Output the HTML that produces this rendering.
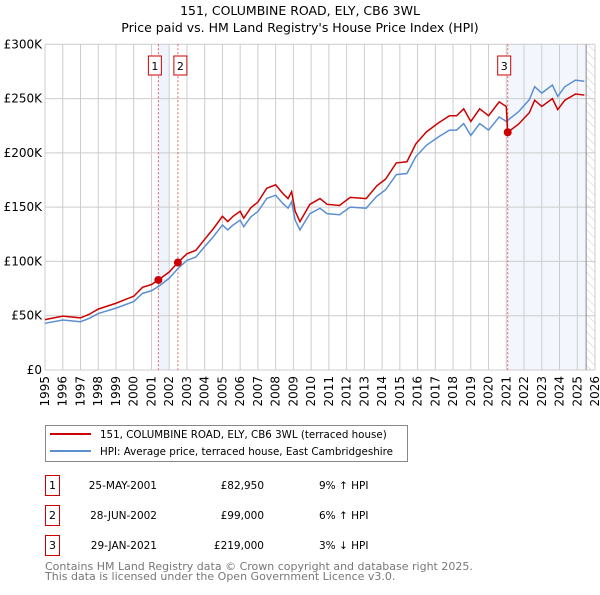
<!DOCTYPE html>
<html><head><meta charset="utf-8"><style>
body{margin:0;background:#fff;font-family:"Liberation Sans","DejaVu Sans",sans-serif}
svg text{font-family:"DejaVu Sans","Liberation Sans",sans-serif}
</style></head><body>
<svg id="c" width="600" height="590" xmlns="http://www.w3.org/2000/svg"></svg>
<script>
const hpiYears=[1995,1996,1997,1997.5,1998,1999,2000,2000.5,2001,2001.4,2002,2002.5,2003,2003.5,2004,2004.5,2005,2005.3,2005.6,2006,2006.2,2006.6,2007,2007.5,2008,2008.4,2008.7,2008.9,2009.1,2009.37,2009.93,2010.5,2010.9,2011.6,2012.2,2013.1,2013.7,2014.2,2014.8,2015.4,2015.9,2016.5,2017.2,2017.8,2018.2,2018.6,2019.0,2019.5,2020.0,2020.6,2021.0,2021.7,2022.3,2022.6,2023.0,2023.6,2023.9,2024.3,2024.9,2025.4];
const hpiValues=[43,46,44.5,47.6,52,57,63,70.6,73,77,84.5,93.6,101,104,113.6,123,133.6,129,133.6,138,132,141,146,158,161,153.5,149,155,138,129,144,149,144,143,150,149,160,166,180,181,196.5,207,215,221,221,227,216,227,221,233,229,238,249,261,255,262.5,252,261,267,266];
const saleYears=[2001.39,2002.49,2021.08];
const salePrices=[82.95,99,219];
const saleLabels=["1","2","3"];
const yTicks=[0,50,100,150,200,250,300];
const yTickLabels=["£0","£50K","£100K","£150K","£200K","£250K","£300K"];
const xTicks=[1995,1996,1997,1998,1999,2000,2001,2002,2003,2004,2005,2006,2007,2008,2009,2010,2011,2012,2013,2014,2015,2016,2017,2018,2019,2020,2021,2022,2023,2024,2025,2026];

const X0=45,X1=595,Y0=370,Y1=44.3;
const xs=y=>X0+(y-1995)/(2026-1995)*(X1-X0);
const ys=v=>Y0-v/300*(Y0-Y1);
const svg=document.getElementById('c');
const NS='http://www.w3.org/2000/svg';
function mk(t,a,p){const e=document.createElementNS(NS,t);for(const k in a)e.setAttribute(k,a[k]);(p||svg).appendChild(e);return e;}
function interp(y){for(let i=0;i<hpiYears.length-1;i++){if(y>=hpiYears[i]&&y<=hpiYears[i+1]){const t=(y-hpiYears[i])/(hpiYears[i+1]-hpiYears[i]);return hpiValues[i]+t*(hpiValues[i+1]-hpiValues[i]);}}return hpiValues[hpiValues.length-1];}

let t=mk('text',{x:300,y:15,'text-anchor':'middle','font-size':12.5});t.textContent='151, COLUMBINE ROAD, ELY, CB6 3WL';

t=mk('text',{x:300,y:32,'text-anchor':'middle','font-size':12.5});t.textContent="Price paid vs. HM Land Registry's House Price Index (HPI)";


let r=mk('rect',{x:xs(saleYears[0]),y:Y1,width:xs(2002.0)-xs(saleYears[0]),height:Y0-Y1,fill:'#eef3fc'});

r=mk('rect',{x:xs(saleYears[2]),y:Y1,width:xs(2025.5)-xs(saleYears[2]),height:Y0-Y1,fill:'#f3f7fd'});

const defs=mk('defs',{});
const pat=mk('pattern',{id:'h',width:6,height:6,patternUnits:'userSpaceOnUse',patternTransform:'rotate(-45)'},defs);
mk('line',{x1:0,y1:0,x2:0,y2:6,stroke:'#ccc','stroke-width':1},pat);
r=mk('rect',{x:xs(2025.5),y:Y1,width:X1-xs(2025.5),height:Y0-Y1,fill:'url(#h)'});


xTicks.forEach(y=>{const l=mk('line',{x1:xs(y),x2:xs(y),y1:Y1,y2:Y0,stroke:'#ccc'});

const tx=mk('text',{transform:`translate(${xs(y)+4},${Y0+6}) rotate(-90)`,'text-anchor':'end','font-size':12});tx.textContent=y;
});
yTicks.forEach((v,i)=>{const l=mk('line',{x1:X0,x2:X1,y1:ys(v),y2:ys(v),stroke:'#ccc'});

const tx=mk('text',{x:X0-3,y:ys(v)+4,'text-anchor':'end','font-size':12});tx.textContent=yTickLabels[i];
});
let l=mk('line',{x1:xs(2025.5),x2:xs(2025.5),y1:Y1,y2:Y0,stroke:'#888'});


saleYears.forEach((y,i)=>{const ln=mk('line',{x1:xs(y),x2:xs(y),y1:Y1,y2:Y0,stroke:'#e06060','stroke-dasharray':'2,2'});
});

const hp=mk('polyline',{points:hpiYears.map((y,i)=>xs(y)+','+ys(hpiValues[i])).join(' '),fill:'none',stroke:'#5b8fd0','stroke-width':1.5});


const f=saleYears.map((y,i)=>salePrices[i]/interp(y));
function fac(y){if(y<saleYears[1])return y<saleYears[0]?f[0]:f[0]+(f[1]-f[0])*(y-saleYears[0])/(saleYears[1]-saleYears[0]);if(y<saleYears[2])return f[1];return f[2];}
const ry=[...hpiYears,...saleYears].sort((a,b)=>a-b);
const rp=mk('polyline',{points:ry.map(y=>xs(y)+','+ys(interp(y)*fac(y))).join(' '),fill:'none',stroke:'#cc0000','stroke-width':1.5});


saleYears.forEach((y,i)=>{
 const c=mk('circle',{cx:xs(y),cy:ys(salePrices[i]),r:4,fill:'#cc0000'});
 
 const b=mk('rect',{x:(i==0?xs(y)-10:i==1?xs(y)-4:xs(y)-10),y:56,width:13,height:19,fill:'#fff',stroke:'#cc0000'});
 
 const tt=mk('text',{x:(i==0?xs(y)-3.5:i==1?xs(y)+2.5:xs(y)-3.5),y:70,'text-anchor':'middle','font-size':11});tt.textContent=saleLabels[i];
 
});

const lg=mk('g',{});
mk('rect',{x:45.5,y:425.5,width:362,height:36,fill:'#fff',stroke:'#888'},lg);
mk('line',{x1:50,x2:91,y1:434,y2:434,stroke:'#cc0000','stroke-width':2},lg);
mk('line',{x1:50,x2:91,y1:451,y2:451,stroke:'#5b8fd0','stroke-width':2},lg);
t=mk('text',{x:100,y:438,'font-size':10.3},lg);t.textContent='151, COLUMBINE ROAD, ELY, CB6 3WL (terraced house)';

t=mk('text',{x:100,y:455,'font-size':10.3},lg);t.textContent='HPI: Average price, terraced house, East Cambridgeshire';


const dates=['25-MAY-2001','28-JUN-2002','29-JAN-2021'],prices=['£82,950','£99,000','£219,000'],rel=['9% ↑ HPI','6% ↑ HPI','3% ↓ HPI'];
dates.forEach((d,i)=>{const yy=475+i*30;
 const g=mk('g',{});
 mk('rect',{x:45.5,y:yy+0.5,width:14,height:20,fill:'#fff',stroke:'#cc0000'},g);
 let a=mk('text',{x:52.5,y:yy+14,'text-anchor':'middle','font-size':11},g);a.textContent=saleLabels[i];
 a=mk('text',{x:157,y:yy+14,'text-anchor':'end','font-size':10.5},g);a.textContent=d;
 a=mk('text',{x:264,y:yy+14,'text-anchor':'end','font-size':10.5},g);a.textContent=prices[i];
 a=mk('text',{x:319,y:yy+14,'font-size':10.5},g);a.textContent=rel[i];
});
t=mk('text',{x:45,y:570,'font-size':11,fill:'#777'});t.textContent='Contains HM Land Registry data © Crown copyright and database right 2025.';

t=mk('text',{x:45,y:580,'font-size':11,fill:'#777'});t.textContent='This data is licensed under the Open Government Licence v3.0.';

</script>
</body></html>
